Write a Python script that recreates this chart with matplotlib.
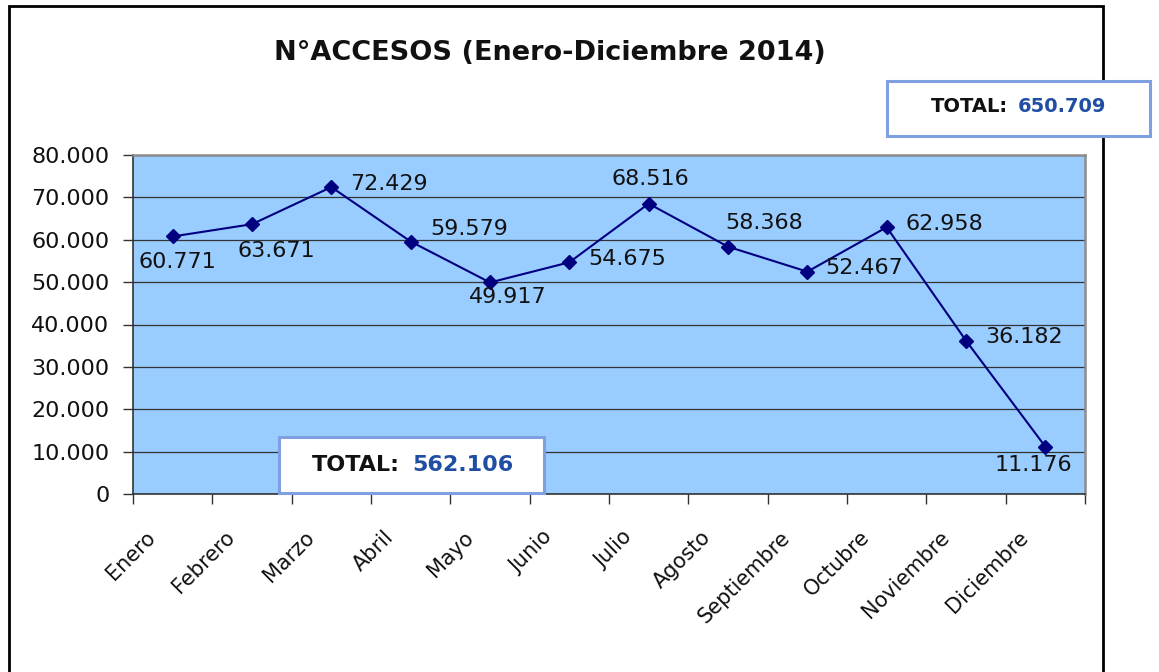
import matplotlib.pyplot as plt
from matplotlib.patches import Rectangle
from matplotlib.transforms import ScaledTranslation
import numpy as np

# Data
meses = ["Enero", "Febrero", "Marzo", "Abril", "Mayo", "Junio", "Julio",
         "Agosto", "Septiembre", "Octubre", "Noviembre", "Diciembre"]
accesos = [60771, 63671, 72429, 59579, 49917, 54675, 68516,
           58368, 52467, 62958, 36182, 11176]
yticks = [0, 10000, 20000, 30000, 40000, 50000, 60000, 70000, 80000]
total_anual = "650.709"
total_parcial = "562.106"

# where each data label sits relative to its point (pixels)
label_offsets = [(5, -26), (24, -27), (58, 3), (59, 13), (18, -15), (58, 3),
                 (2, 25), (36, 24), (57, 4), (58, 3), (58, 4), (-12, -18)]


def miles(v):
    return f"{int(v):,}".replace(",", ".")


W, H = 1159, 672
fig = plt.figure(figsize=(W / 100, H / 100), dpi=100)
plt.rcParams['font.family'] = 'DejaVu Sans'

ax = fig.add_axes([133 / W, 1 - 494 / H, (1085 - 133) / W, (494 - 155) / H])
ax.set_facecolor('#99CCFF')

x = np.arange(len(meses))
ax.plot(x, accesos, color='#000080', linewidth=1.5, marker='D',
        markersize=7, zorder=3)

for xi, v, (dx, dy) in zip(x, accesos, label_offsets):
    ax.annotate(miles(v), (xi, v), xytext=(dx, dy), textcoords='offset pixels',
                ha='center', va='center', fontsize=16, color='#111111', zorder=4)

ax.set_xlim(-0.5, len(meses) - 0.5)
ax.set_ylim(0, 80000)
ax.set_yticks(yticks)
ax.set_yticklabels([miles(v) for v in yticks], fontsize=16, color='#111111')
ax.yaxis.grid(True, color='#333333', linewidth=0.9)
ax.set_axisbelow(True)

ax.set_xticks(x)
ax.set_xticklabels(meses, fontsize=15, rotation=45, ha='right', va='center',
                   rotation_mode='anchor', color='#111111')
ax.set_xticks(np.arange(-0.5, len(meses), 1), minor=True)
ax.tick_params(axis='x', which='major', length=0, pad=29)
ax.tick_params(axis='x', which='minor', length=7, width=1, color='#333333')
ax.tick_params(axis='y', length=7, width=1, color='#333333', pad=10)

shift = ScaledTranslation(-0.2, 0, fig.dpi_scale_trans)
for lbl in ax.get_xticklabels():
    lbl.set_transform(lbl.get_transform() + shift)

for side in ['left', 'bottom']:
    ax.spines[side].set_color('#333333')
    ax.spines[side].set_linewidth(1.2)
for side in ['top', 'right']:
    ax.spines[side].set_color('#8C8C8C')
    ax.spines[side].set_linewidth(1.8)

# Title
fig.text(550 / W, 1 - 53 / H, "N°ACCESOS (Enero-Diciembre 2014)",
         fontsize=19.5, fontweight='bold', ha='center', va='center',
         color='#111111')

# Outer frame (no bottom edge visible)
frame = Rectangle((9 / W, -0.05), (1103 - 9) / W, 1.05 - 6 / H,
                  transform=fig.transFigure, fill=False, edgecolor='black',
                  linewidth=2, zorder=0)
fig.add_artist(frame)


def total_box(x0, y0, x1, y1, split, gap, ycen, value, size):
    box = Rectangle((x0 / W, 1 - y1 / H), (x1 - x0) / W, (y1 - y0) / H,
                    transform=fig.transFigure, facecolor='white',
                    edgecolor='#7F9FE0', linewidth=2.2, zorder=5)
    fig.add_artist(box)
    fig.text(split / W, 1 - ycen / H, "TOTAL:", fontsize=size,
             fontweight='bold', ha='right', va='center', color='#111111',
             zorder=6)
    fig.text((split + gap) / W, 1 - ycen / H, value, fontsize=size,
             fontweight='bold', ha='left', va='center', color='#1F4EA3',
             zorder=6)


total_box(887, 81, 1150, 136, 1008, 10, 107, total_anual, 14)
total_box(279, 437, 544, 493, 400, 12, 465, total_parcial, 16)

fig.savefig("out.png", dpi=100)
